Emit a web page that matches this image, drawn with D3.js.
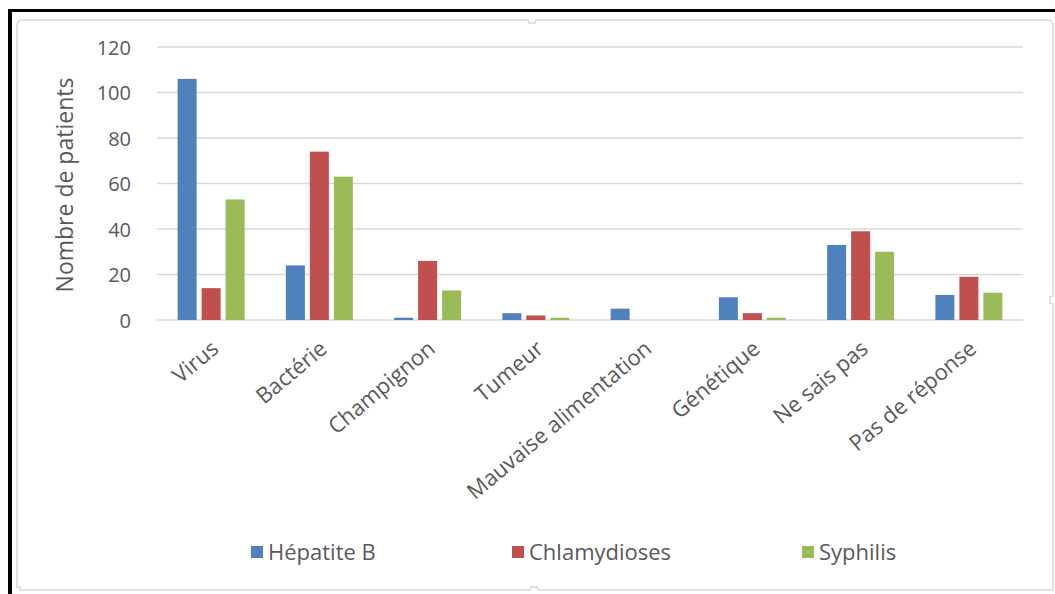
<!DOCTYPE html>
<html>
<head>
<meta charset="utf-8">
<script src="https://cdn.jsdelivr.net/npm/d3@7"></script>
<style>
  html, body { margin: 0; padding: 0; background: #ffffff; }
  svg { display: block; }
  text { font-family: "Open Sans", "Noto Sans", sans-serif; }
</style>
</head>
<body>
<svg id="chart" width="1055" height="594"></svg>
<script>
// ---- data ----
const categories = ["Virus", "Bactérie", "Champignon", "Tumeur", "Mauvaise alimentation", "Génétique", "Ne sais pas", "Pas de réponse"];
const seriesNames = ["Hépatite B", "Chlamydioses", "Syphilis"];
const hepatiteB   = [106, 24, 1, 3, 5, 10, 33, 11];
const chlamydioses = [14, 74, 26, 2, 0, 3, 39, 19];
const syphilis    = [53, 63, 13, 1, 0, 1, 30, 12];
const yTicks = [0, 20, 40, 60, 80, 100, 120];
const yTitle = "Nombre de patients";
const colors = ["#4f81bd", "#c0504d", "#9bbb59"];

const seriesValues = [hepatiteB, chlamydioses, syphilis];

// ---- layout ----
const plot = { left: 157, right: 1023, top: 47, bottom: 320 };
const svg = d3.select("#chart");

// outer frame (black) and chart border (light gray)
svg.append("rect").attr("x", 8).attr("y", 9).attr("width", 1047).attr("height", 3).attr("fill", "#000");
svg.append("rect").attr("x", 8).attr("y", 9).attr("width", 4).attr("height", 585).attr("fill", "#000");

const bx0 = 17, by0 = 20, bx1 = 1053, by1 = 590;
const border = d3.path();
border.moveTo(bx0, by0 + 4);
border.lineTo(bx0 + 3, by0);
border.lineTo(528, by0); border.lineTo(529, by0 + 3); border.lineTo(535, by0 + 3); border.lineTo(536, by0);
border.lineTo(bx1 - 3, by0);
border.lineTo(bx1, by0 + 4);
border.lineTo(bx1, 296); border.lineTo(bx1 - 3, 297); border.lineTo(bx1 - 3, 303); border.lineTo(bx1, 304);
border.lineTo(bx1, by1);
border.lineTo(538, by1); border.lineTo(537, by1 - 3); border.lineTo(531, by1 - 3); border.lineTo(530, by1);
border.lineTo(bx0 + 3, by1);
border.lineTo(bx0 + 3, by1 - 3);
border.lineTo(bx0, by1 - 3);
border.closePath();
svg.append("path").attr("d", border.toString()).attr("fill", "none")
  .attr("stroke", "#d9d9d9").attr("stroke-width", 1.5);

// scales
const y = d3.scaleLinear().domain([0, 120]).range([plot.bottom, plot.top]);
const x0 = d3.scaleBand().domain(categories).range([plot.left, plot.right]).padding(0);
const x1 = d3.scaleBand().domain(seriesNames).range([-33.5, 33.5]).paddingInner(5 / 24).paddingOuter(0);

// gridlines
svg.append("g").selectAll("line").data(yTicks).join("line")
  .attr("x1", plot.left).attr("x2", plot.right)
  .attr("y1", d => y(d)).attr("y2", d => y(d))
  .attr("stroke", "#d9d9d9").attr("stroke-width", 1.5);

// y axis labels via d3 axis
const yAxis = d3.axisLeft(y).tickValues(yTicks).tickSize(0).tickPadding(0);
const gy = svg.append("g").attr("transform", `translate(131,0)`).call(yAxis);
gy.select(".domain").remove();
gy.selectAll("text")
  .attr("fill", "#595959")
  .style("font-family", '"Open Sans", sans-serif')
  .style("font-size", "20px")
  .attr("dy", "0.35em");

// y title
svg.append("text")
  .attr("transform", `translate(73,185) rotate(-90)`)
  .attr("text-anchor", "middle")
  .attr("fill", "#595959")
  .style("font-size", "23px")
  .text(yTitle);

// bars
const groups = svg.append("g").selectAll("g").data(categories).join("g")
  .attr("transform", d => `translate(${x0(d) + x0.bandwidth() / 2},0)`);
groups.selectAll("rect").data((d, i) => seriesNames.map((s, k) => ({ s, k, v: seriesValues[k][i] })))
  .join("rect")
  .filter(d => d.v > 0)
  .attr("x", d => x1(d.s))
  .attr("width", x1.bandwidth())
  .attr("y", d => y(d.v))
  .attr("height", d => y(0) - y(d.v))
  .attr("fill", d => colors[d.k]);

// category labels
const xAxis = d3.axisBottom(x0).tickSize(0).tickPadding(0);
const gx = svg.append("g").attr("transform", `translate(0,${plot.bottom})`).call(xAxis);
gx.select(".domain").remove();
gx.selectAll(".tick text")
  .attr("y", 0).attr("dy", 0)
  .attr("transform", "translate(9,31) rotate(-40)")
  .attr("text-anchor", "end")
  .attr("fill", "#595959")
  .style("font-family", '"Open Sans", sans-serif')
  .style("font-size", "22px");

// legend
const legendX = [251, 512, 802];
const legend = svg.append("g").selectAll("g").data(seriesNames).join("g")
  .attr("transform", (d, i) => `translate(${legendX[i]},546)`);
legend.append("rect").attr("width", 12).attr("height", 12).attr("fill", (d, i) => colors[i]);
legend.append("text").attr("x", 17).attr("y", 6).attr("dy", "0.35em")
  .attr("fill", "#595959").style("font-size", "22px").text(d => d);
</script>
</body>
</html>
